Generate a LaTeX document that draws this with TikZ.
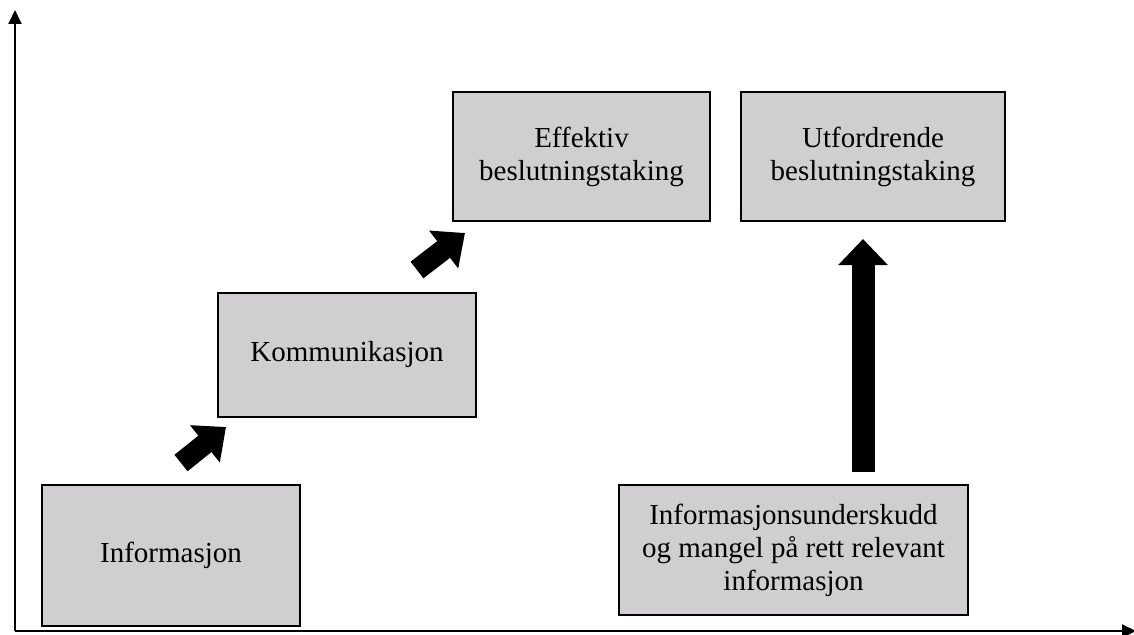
\documentclass[tikz,border=0pt]{standalone}
\usepackage{fontspec}
\setmainfont{Liberation Serif}
\usetikzlibrary{arrows.meta}
\definecolor{boxgrey}{RGB}{208,206,208}
\begin{document}
\begin{tikzpicture}[x=1pt,y=-1pt,
  stage/.style={draw=black, line width=2pt, fill=boxgrey, inner sep=0pt,
    font=\fontsize{29}{33}\selectfont, align=center},
  axis/.style={line width=2pt, -{Triangle[length=14pt,width=13pt]}},
  bigarrow/.style={line width=21pt, -{Triangle[length=27pt,width=46pt]}},
  tallarrow/.style={line width=23pt, -{Triangle[length=26pt,width=48pt]}}]
\useasboundingbox (0,0) rectangle (1134,634);

% axes
\coordinate (origin) at (15,631);
\coordinate (ytop) at (15,10);
\coordinate (xend) at (1136,631);
\draw[axis] (origin) -- (ytop);
\draw[axis] (origin) -- (xend);

% stages
\node[stage, minimum width=258pt, minimum height=141pt] (info) at (171,555.5) {Informasjon};
\node[stage, minimum width=258pt, minimum height=124pt] (komm) at (347,355) {Kommunikasjon};
\node[stage, minimum width=257pt, minimum height=129pt] (eff) at (581.5,156.5) {Effektiv\\beslutningstaking};
\node[stage, minimum width=264pt, minimum height=129pt] (utf) at (873,156.5) {Utfordrende\\beslutningstaking};
\node[stage, minimum width=349pt, minimum height=130pt] (under) at (793.5,550) {Informasjonsunderskudd\\og mangel på rett relevant\\informasjon};

% transitions
\coordinate (a1s) at (181,463);
\coordinate (a1e) at (226,427);
\coordinate (a2s) at (417,270);
\coordinate (a2e) at (465,233);
\coordinate (a3s) at (863,472);
\coordinate (a3e) at (863,239);
\draw[bigarrow] (a1s) -- (a1e);
\draw[bigarrow] (a2s) -- (a2e);
\draw[tallarrow] (a3s) -- (a3e);
\end{tikzpicture}
\end{document}
